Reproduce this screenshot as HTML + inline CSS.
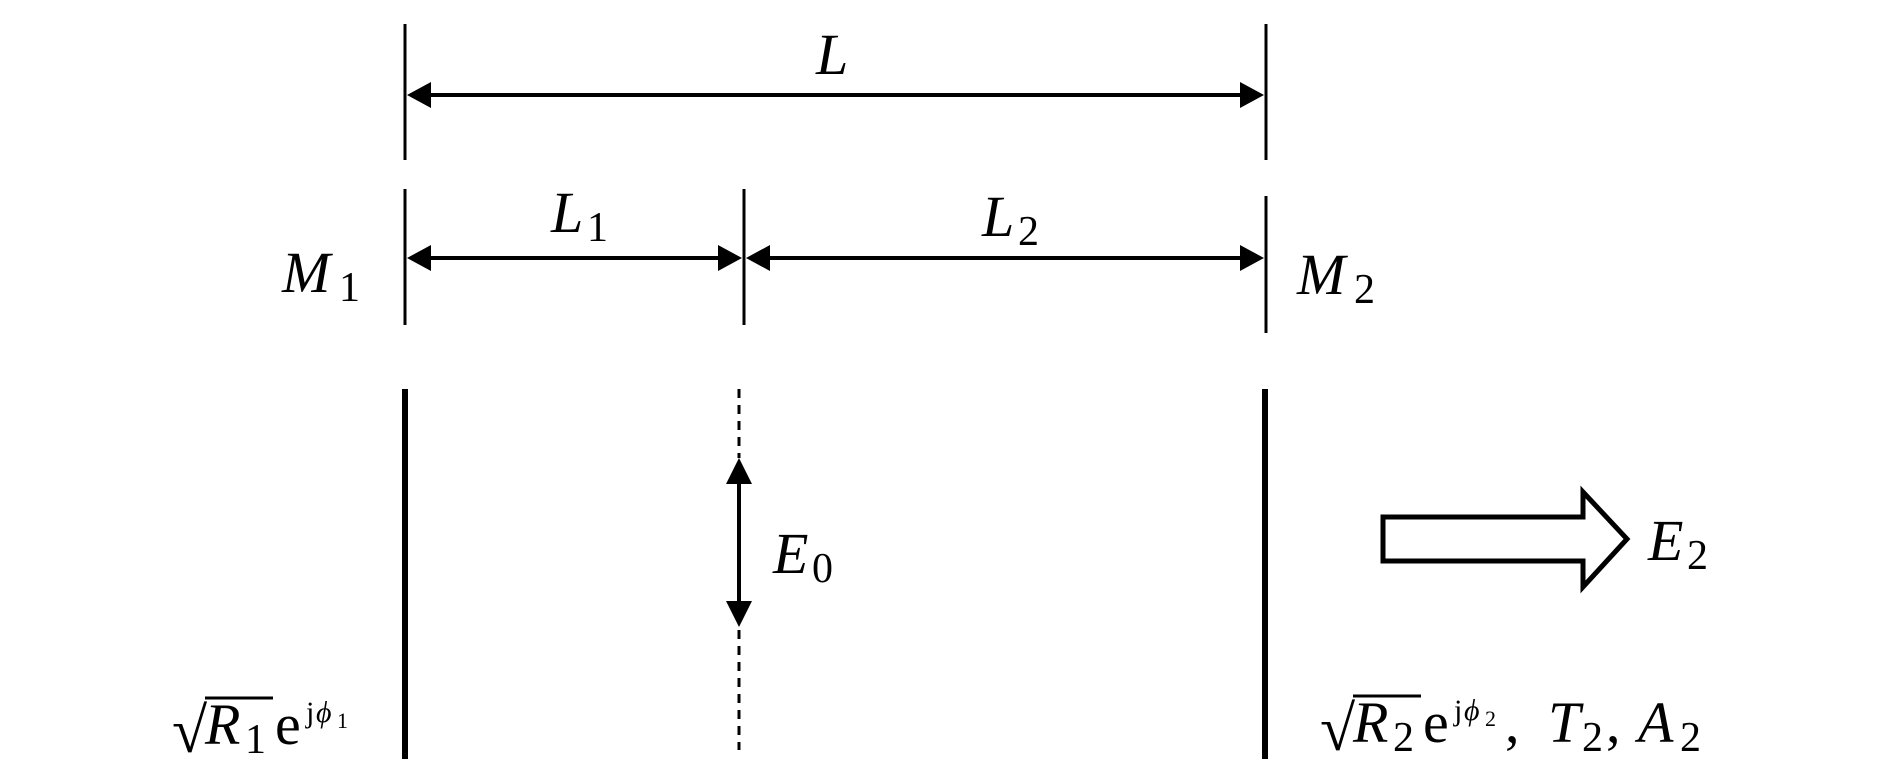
<!DOCTYPE html>
<html><head><meta charset="utf-8"><style>
html,body{margin:0;padding:0;background:#fff;}
svg{display:block;}
text{font-family:"Liberation Serif",serif;font-size:58px;fill:#000;}
.i{font-style:italic;}
.s{font-size:42px;}
.ss{font-size:30px;}
</style></head><body>
<svg width="1890" height="780" viewBox="0 0 1890 780" xmlns="http://www.w3.org/2000/svg">
<g stroke="#000" stroke-width="3" fill="none">
<line x1="405" y1="24" x2="405" y2="160"/>
<line x1="1266" y1="24" x2="1266" y2="160"/>
<line x1="405" y1="189" x2="405" y2="325"/>
<line x1="744" y1="189" x2="744" y2="325"/>
<line x1="1266" y1="196" x2="1266" y2="333"/>
<line x1="425" y1="95" x2="1246" y2="95" stroke-width="4"/>
<line x1="425" y1="258" x2="724" y2="258" stroke-width="4"/>
<line x1="764" y1="258" x2="1246" y2="258" stroke-width="4"/>
<line x1="405" y1="389" x2="405" y2="759" stroke-width="6"/>
<line x1="1265" y1="389" x2="1265" y2="759" stroke-width="6"/>
<line x1="739" y1="389" x2="739" y2="458" stroke-dasharray="9,7"/>
<line x1="739" y1="630" x2="739" y2="750" stroke-dasharray="9,7"/>
<line x1="739" y1="478" x2="739" y2="607" stroke-width="4"/>
<polygon points="1383,517 1583,517 1583,492 1627,539 1583,587 1583,561 1383,561" stroke-width="5"/>
</g>
<g fill="#000">
<polygon points="407,95 431,82 431,108"/>
<polygon points="1264,95 1240,82 1240,108"/>
<polygon points="407,258 431,245 431,271"/>
<polygon points="742,258 718,245 718,271"/>
<polygon points="746,258 770,245 770,271"/>
<polygon points="1264,258 1240,245 1240,271"/>
<polygon points="739,458 726,484 752,484"/>
<polygon points="739,627 726,601 752,601"/>
</g>
<text class="i" x="816" y="74">L</text>
<text x="551" y="232"><tspan class="i">L</tspan><tspan class="s" x="587" dy="9">1</tspan></text>
<text x="982" y="236"><tspan class="i">L</tspan><tspan class="s" x="1018" dy="9">2</tspan></text>
<text x="282" y="292"><tspan class="i">M</tspan><tspan class="s" x="339" dy="9">1</tspan></text>
<text x="1297" y="294"><tspan class="i">M</tspan><tspan class="s" x="1354" dy="9">2</tspan></text>
<text x="773" y="573"><tspan class="i">E</tspan><tspan class="s" x="812" dy="9">0</tspan></text>
<text x="1648" y="560"><tspan class="i">E</tspan><tspan class="s" x="1687" dy="9">2</tspan></text>
<!-- bottom left -->
<text x="172" y="752" style="font-size:64px">√</text>
<line x1="205" y1="698" x2="273" y2="698" stroke="#000" stroke-width="3"/>
<text x="205" y="744"><tspan class="i">R</tspan><tspan class="s" x="245" dy="9">1</tspan><tspan x="275" dy="-9">e</tspan><tspan class="ss" x="306" dy="-22">j</tspan><tspan class="ss i" x="316">ϕ</tspan><tspan style="font-size:22px" x="337" dy="6">1</tspan></text>
<!-- bottom right -->
<text x="1320" y="750" style="font-size:64px">√</text>
<line x1="1353" y1="696" x2="1421" y2="696" stroke="#000" stroke-width="3"/>
<text x="1353" y="742"><tspan class="i">R</tspan><tspan class="s" x="1393" dy="9">2</tspan><tspan x="1423" dy="-9">e</tspan><tspan class="ss" x="1454" dy="-22">j</tspan><tspan class="ss i" x="1464">ϕ</tspan><tspan style="font-size:22px" x="1485" dy="6">2</tspan><tspan x="1505" dy="16">,</tspan><tspan class="i" x="1548">T</tspan><tspan class="s" x="1582" dy="9">2</tspan><tspan x="1606" dy="-9">,</tspan><tspan class="i" x="1638">A</tspan><tspan class="s" x="1680" dy="9">2</tspan></text>
</svg>
</body></html>
